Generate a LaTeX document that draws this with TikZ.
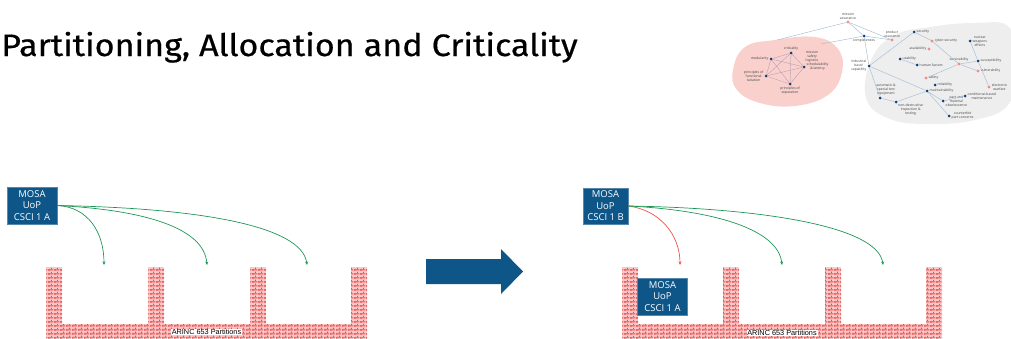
\documentclass[tikz,border=0pt]{standalone}
\usepackage{fontspec}
\setmainfont{Open Sans}
\newfontfamily\titlefont[FakeStretch=1.1,FakeBold=0.6]{Fira Sans}
\newfontfamily\arialfont{Liberation Sans}
\usetikzlibrary{arrows.meta,patterns.meta}

\definecolor{mosablue}{RGB}{14,85,136}
\definecolor{linkgreen}{RGB}{30,150,85}
\definecolor{linkred}{RGB}{238,82,72}
\definecolor{brickred}{RGB}{238,72,72}
\definecolor{brickpink}{RGB}{250,200,200}
\definecolor{mapblue}{RGB}{12,62,120}
\definecolor{mappink}{RGB}{240,140,140}
\definecolor{blobpink}{RGB}{249,208,204}
\definecolor{blobgrey}{RGB}{238,238,238}
\definecolor{maplink}{RGB}{165,188,210}
\definecolor{innerlink}{RGB}{170,150,180}

\tikzdeclarepattern{
  name=smallbricks,
  type=uncolored,
  bounding box={(0pt,0pt) and (6pt,4pt)},
  tile size={(6pt,4pt)},
  code={
    \draw[line width=0.8pt] (0pt,0pt) -- (6pt,0pt) (0pt,2pt) -- (6pt,2pt)
      (1pt,0pt) -- (1pt,2pt) (4pt,2pt) -- (4pt,4pt);
  }
}

\tikzset{
  mosabox/.style={draw=mosablue!70!white, fill=mosablue, text=white, align=center,
    font=\fontsize{9.5}{11.5}\selectfont, inner sep=1pt},
  alloc/.style={-{Stealth[length=3.5pt,width=3pt]}, linkgreen, line width=0.7pt},
  badalloc/.style={alloc, linkred},
  wall/.style={fill=brickpink, postaction={pattern=smallbricks, pattern color=brickred}},
  partlabel/.style={fill=white, inner sep=0.8pt, font=\arialfont\fontsize{7.3}{8}\selectfont},
  bdot/.style={circle, fill=mapblue, inner sep=0pt, minimum size=3pt},
  pdot/.style={circle, fill=mappink, inner sep=0pt, minimum size=3.2pt},
  lbl/.style={font=\fontsize{3.4}{3.9}\selectfont, text=black!75, align=center, inner sep=0.8pt},
  mapline/.style={draw=maplink, line width=0.45pt},
  innerline/.style={draw=innerlink, line width=0.3pt}
}

\begin{document}
\begin{tikzpicture}[x=1pt, y=-1pt]
\useasboundingbox (0,0) rectangle (1011,338);

% Title
\node[anchor=base west, inner sep=0pt, font=\titlefont\fontsize{31}{36}\selectfont] (title) at (1,56)
  {Partitioning, Allocation and Criticality};

% Concept map (top right)
\fill[blobgrey] plot[smooth cycle, tension=0.7] coordinates {(872,58) (895,35) (930,27) (975,23) (1010,28) (1016,70) (1008,105) (975,120) (930,124) (890,119) (866,98)};
\fill[blobpink] plot[smooth cycle, tension=0.7] coordinates {(733,70) (745,47) (775,40) (815,37) (838,49) (842,72) (828,95) (795,106) (760,103) (737,90)};
\coordinate (pkA) at (777,40);
\coordinate (pkB) at (821,44);

\node[pdot, label={[lbl]above:mission\\assurance}] (mis) at (848,22) {};
\node[bdot, label={[lbl]below:completeness}] (circ) at (864,36) {};
\node[pdot, label={[lbl]above:product\\assurance}] (prod) at (892,40) {};
\node[bdot, label={[lbl]left:industrial\\base/\\capability}] (ind) at (869,66) {};
\node[bdot, label={[lbl]right:security}] (sec) at (914,32) {};
\node[pdot, label={[lbl]right:cyber-security}] (cyb) at (932,41) {};
\node[pdot, label={[lbl]left:availability}] (avail) at (929,49) {};
\node[bdot, label={[lbl]right:usability}] (usab) at (900,59) {};
\node[bdot, label={[lbl]right:human factors}] (hum) at (917,65) {};
\node[pdot, label={[lbl]above:survivability}] (surv) at (959,64) {};
\node[bdot, label={[lbl]right:nuclear\\weapons\\effects}] (nuc) at (970,41) {};
\node[bdot, label={[lbl]right:susceptibility}] (susc) at (978,61) {};
\node[pdot, label={[lbl]right:vulnerability}] (vuln) at (978,71) {};
\node[pdot, label={[lbl]right:electronic\\warfare}] (elec) at (989,87) {};
\node[pdot, label={[lbl]right:safety}] (safe) at (926,78) {};
\node[bdot, label={[lbl]right:reliability}] (rel) at (935,85) {};
\node[bdot, label={[lbl]right:maintainability}] (maint) at (927,91) {};
\node[bdot, label={[lbl]right:conditional-based\\maintenance}] (cond) at (965,96) {};
\node[bdot, label={[lbl]right:part and\\material\\obsolescence}] (part) at (943,101) {};
\node[bdot, label={[lbl]right:counterfeit\\part concerns}] (count) at (949,116) {};
\node[bdot, label={[lbl,xshift=6pt]above:automatic \&\\special test\\equipment}] (auto) at (880,98) {};
\node[bdot, label={[lbl]below right:non-destructive\\inspection \&\\testing}] (nond) at (896,102) {};

\node[bdot, label={[lbl]left:modularity}] (mod) at (771,59) {};
\node[bdot, label={[lbl]above:criticality}] (crit) at (791,53) {};
\node[lbl] (msl) at (812,57) {mission\\safety\\logistics};
\node[bdot, label={[lbl]right:schedulability\\\& latency}] (sched) at (804,67) {};
\node[bdot, label={[lbl]left:principles of\\functional\\isolation}] (fiso) at (766,76) {};
\node[bdot, label={[lbl]below:principles of\\separation}] (sep) at (790,84) {};

\foreach \a/\b in {mod/crit,mod/sched,mod/fiso,mod/sep,crit/sched,crit/fiso,crit/sep,sched/fiso,sched/sep,fiso/sep}
  \draw[innerline] (\a) -- (\b);
\foreach \a/\b in {pkA/mis,pkB/circ,mis/circ,mis/prod,circ/prod,circ/ind,ind/sec,sec/cyb,cyb/surv,
    surv/susc,surv/vuln,surv/safe,nuc/susc,susc/elec,usab/hum,ind/maint,ind/auto,auto/nond,
    nond/maint,maint/part,maint/count,part/cond}
  \draw[mapline] (\a) -- (\b);

% Left: before allocation
\fill[wall] (46,267) rectangle (62,338);
\fill[wall] (148,267) rectangle (164,324);
\fill[wall] (250,267) rectangle (266,324);
\fill[wall] (351,267) rectangle (367,338);
\fill[wall] (62,324) rectangle (351,338);
\node[partlabel] (arincL) at (206.5,332) {ARINC 653 Partitions};

\node[mosabox, minimum width=50, minimum height=37] (mosaA) at (32,205.5) {MOSA\\UoP\\CSCI 1 A};
\coordinate (slotA1) at (104,265);
\coordinate (slotA2) at (207,265);
\coordinate (slotA3) at (307,265);
\draw[alloc] (mosaA.east) .. controls (88,207) and (104,232) .. (slotA1);
\draw[alloc] (mosaA.east) .. controls (145,210) and (204,228) .. (slotA2);
\draw[alloc] (mosaA.east) .. controls (200,208) and (302,226) .. (slotA3);

% Transition arrow
\fill[mosablue] (426,259) -- (501,259) -- (501,249) -- (523,271.5) -- (501,294) -- (501,284) -- (426,284) -- cycle;

% Right: after allocation
\fill[wall] (622,267) rectangle (638,338);
\fill[wall] (723,267) rectangle (739,324);
\fill[wall] (825,267) rectangle (841,324);
\fill[wall] (926,267) rectangle (942,338);
\fill[wall] (638,324) rectangle (926,338);
\node[partlabel] (arincR) at (782,333) {ARINC 653 Partitions};

\node[mosabox, minimum width=50, minimum height=37] (mosaIn) at (662.5,296.5) {MOSA\\UoP\\CSCI 1 A};
\node[mosabox, minimum width=45, minimum height=36] (mosaB) at (605.5,206) {MOSA\\UoP\\CSCI 1 B};
\coordinate (slotB1) at (680,265);
\coordinate (slotB2) at (782,265);
\coordinate (slotB3) at (883,265);
\draw[badalloc] (mosaB.east) .. controls (660,210) and (680,235) .. (slotB1);
\draw[alloc] (mosaB.east) .. controls (710,210) and (778,228) .. (slotB2);
\draw[alloc] (mosaB.east) .. controls (760,208) and (878,226) .. (slotB3);

\end{tikzpicture}
\end{document}
